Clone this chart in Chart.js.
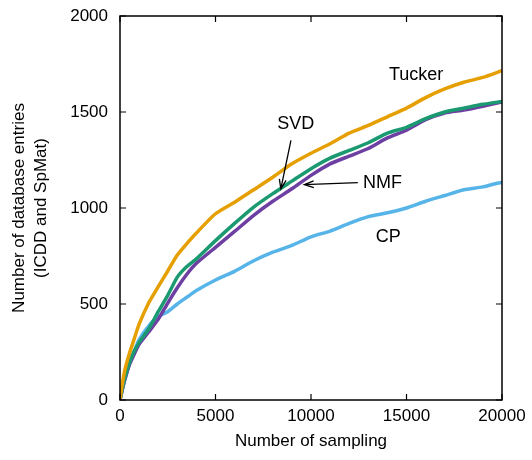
<!DOCTYPE html>
<html>
<head>
<meta charset="utf-8">
<script src="https://cdn.jsdelivr.net/npm/chart.js@4.4.1/dist/chart.umd.min.js"></script>
<style>
  html, body { margin: 0; padding: 0; background: #fff; }
</style>
</head>
<body>
<canvas id="chart" width="532" height="460"></canvas>
<script>
  // number of sampling (x)
  const samples = [0, 100, 250, 500, 750, 1000, 1500, 2000, 2500, 3000, 3500, 4000, 5000, 6000, 7000,
    8000, 9000, 10000, 11000, 12000, 13000, 14000, 15000, 16000, 17000, 18000, 19000, 20000];

  // number of database entries per method
  const tucker = [0, 70, 155, 245, 320, 395, 505, 590, 672, 755, 815, 870, 970, 1030, 1095,
    1160, 1230, 1285, 1335, 1390, 1430, 1475, 1520, 1575, 1620, 1655, 1680, 1715];
  const svd = [0, 50, 115, 195, 255, 300, 370, 460, 545, 640, 695, 735, 830, 920, 1005,
    1075, 1140, 1205, 1260, 1300, 1340, 1390, 1420, 1465, 1500, 1520, 1540, 1555];
  const nmf = [0, 45, 105, 185, 240, 290, 355, 420, 505, 585, 655, 712, 795, 878, 962,
    1035, 1100, 1170, 1230, 1270, 1310, 1365, 1405, 1460, 1495, 1510, 1530, 1552];
  const cp = [0, 45, 105, 190, 255, 315, 385, 435, 460, 500, 535, 570, 625, 670, 725,
    770, 805, 850, 880, 920, 955, 975, 1000, 1035, 1065, 1095, 1110, 1135];

  const xTicks = [0, 5000, 10000, 15000, 20000];
  const yTicks = [0, 500, 1000, 1500, 2000];

  const FONT = '"Liberation Sans", Arial, Helvetica, sans-serif';

  function toPoints(ys) {
    return ys.map((y, i) => ({ x: samples[i], y: y }));
  }

  function makeSet(label, ys, color) {
    return {
      label: label,
      data: toPoints(ys),
      borderColor: color,
      backgroundColor: color,
      borderWidth: 3.5,
      pointRadius: 0,
      tension: 0.2,
    };
  }

  // frame with inward ticks, axis titles and labels with arrows
  const decorations = {
    id: 'decorations',
    afterDraw(chart) {
      const ctx = chart.ctx;
      const area = chart.chartArea;
      const xs = chart.scales.x;
      const ys = chart.scales.y;
      const tick = 6;

      ctx.save();
      ctx.strokeStyle = '#000';
      ctx.lineWidth = 1.5;
      ctx.strokeRect(area.left, area.top, area.right - area.left, area.bottom - area.top);

      ctx.lineWidth = 1.2;
      ctx.beginPath();
      xTicks.forEach((v) => {
        const px = xs.getPixelForValue(v);
        ctx.moveTo(px, area.bottom);
        ctx.lineTo(px, area.bottom - tick);
        ctx.moveTo(px, area.top);
        ctx.lineTo(px, area.top + tick);
      });
      yTicks.forEach((v) => {
        const py = ys.getPixelForValue(v);
        ctx.moveTo(area.left, py);
        ctx.lineTo(area.left + tick, py);
        ctx.moveTo(area.right, py);
        ctx.lineTo(area.right - tick, py);
      });
      ctx.stroke();

      // axis titles
      ctx.fillStyle = '#000';
      ctx.font = '17px ' + FONT;
      ctx.textAlign = 'center';
      ctx.textBaseline = 'middle';
      ctx.fillText('Number of sampling', (area.left + area.right) / 2, 441);

      ctx.save();
      ctx.translate(19, (area.top + area.bottom) / 2);
      ctx.rotate(-Math.PI / 2);
      ctx.fillText('Number of database entries', 0, 0);
      ctx.fillText('(ICDD and SpMat)', 0, 22);
      ctx.restore();

      // method labels
      ctx.font = '18px ' + FONT;
      const X = (v) => xs.getPixelForValue(v);
      const Y = (v) => ys.getPixelForValue(v);
      ctx.fillText('Tucker', X(15500), Y(1690));
      ctx.fillText('SVD', X(9200), Y(1437));
      ctx.fillText('CP', X(14050), Y(849));
      ctx.textAlign = 'left';
      ctx.fillText('NMF', X(12720), Y(1130));

      ctx.lineWidth = 1.3;
      drawArrow(ctx, X(8950), Y(1352), X(8420), Y(1100));
      drawArrow(ctx, X(12450), Y(1132), X(9650), Y(1122));
      ctx.restore();
    },
  };

  function drawArrow(ctx, x1, y1, x2, y2) {
    const ang = Math.atan2(y2 - y1, x2 - x1);
    const head = 10;
    const spread = 0.35;
    ctx.beginPath();
    ctx.moveTo(x1, y1);
    ctx.lineTo(x2, y2);
    ctx.moveTo(x2 - head * Math.cos(ang - spread), y2 - head * Math.sin(ang - spread));
    ctx.lineTo(x2, y2);
    ctx.lineTo(x2 - head * Math.cos(ang + spread), y2 - head * Math.sin(ang + spread));
    ctx.stroke();
  }

  const chartCanvas = document.getElementById('chart');

  new Chart(chartCanvas, {
    type: 'line',
    data: {
      datasets: [
        makeSet('Tucker', tucker, '#E69F00'),
        makeSet('SVD', svd, '#1B9A72'),
        makeSet('NMF', nmf, '#6E3FA3'),
        makeSet('CP', cp, '#56B4E9'),
      ],
    },
    options: {
      responsive: false,
      animation: false,
      devicePixelRatio: 1,
      layout: {
        padding: { left: 0, right: 30, top: 16, bottom: 0 },
      },
      plugins: {
        legend: { display: false },
        tooltip: { enabled: false },
      },
      scales: {
        x: {
          type: 'linear',
          min: 0,
          max: 20000,
          afterBuildTicks: (scale) => {
            scale.ticks = xTicks.map((v) => ({ value: v }));
          },
          afterFit: (scale) => {
            scale.height = 60;
            scale.paddingLeft = 0;
            scale.paddingRight = 0;
          },
          grid: { display: false, drawTicks: false },
          border: { display: false },
          ticks: {
            padding: 6,
            maxRotation: 0,
            color: '#000',
            font: { family: FONT, size: 17 },
            callback: (v) => String(v),
          },
        },
        y: {
          type: 'linear',
          min: 0,
          max: 2000,
          afterBuildTicks: (scale) => {
            scale.ticks = yTicks.map((v) => ({ value: v }));
          },
          afterFit: (scale) => {
            scale.width = 120;
            scale.paddingTop = 0;
            scale.paddingBottom = 0;
          },
          grid: { display: false, drawTicks: false },
          border: { display: false },
          ticks: {
            padding: 12,
            color: '#000',
            font: { family: FONT, size: 17 },
            callback: (v) => String(v),
          },
        },
      },
    },
    plugins: [decorations],
  });
</script>
</body>
</html>
